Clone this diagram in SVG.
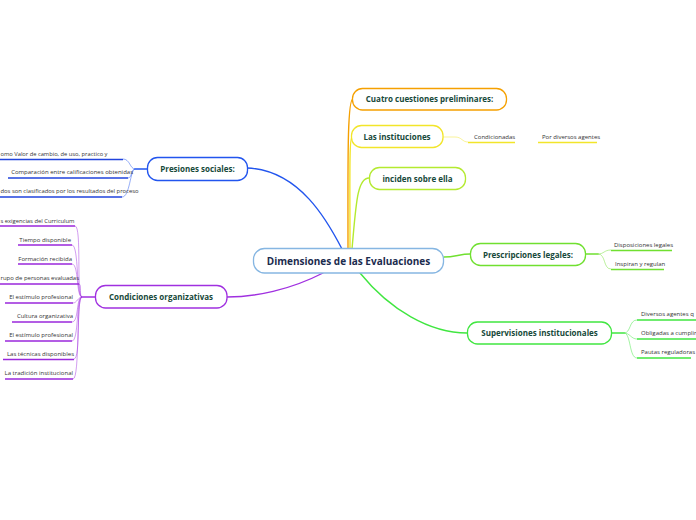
<svg xmlns="http://www.w3.org/2000/svg" width="696" height="520" viewBox="0 0 696 520">
<style>
.bg{fill:#ffffff}
.node{fill:#ffffff;stroke-width:1.3}
.main{font-family:"Open Sans","Noto Sans",sans-serif;font-size:8px;font-weight:bold;fill:#17493a;text-anchor:middle}
.center{font-family:"Open Sans","Noto Sans",sans-serif;font-size:10px;font-weight:bold;fill:#1b2b4e;text-anchor:middle}
.leaf{font-family:"Open Sans","Noto Sans",sans-serif;font-size:6px;fill:#333333}
.le{text-anchor:end}
.c{fill:none;stroke-width:1.4;stroke-linecap:round}
.lc{fill:none;stroke-width:0.8;opacity:0.6}
.ul{fill:none;stroke-width:1.4}
</style>
<rect class="bg" x="0" y="0" width="696" height="520"/>
<g id="connectors">
  <path class="c" stroke="#f5a000" d="M348,249 C348,170 347,99 353,99"/>
  <path class="c" stroke="#f2e52a" d="M350,249 C350,190 349,137 352,137"/>
  <path class="c" stroke="#b4ea30" d="M352,249 C356,205 357,178 369,178"/>
  <path class="c" stroke="#2255ee" d="M247,168 C300,170 328,222 342,249"/>
  <path class="c" stroke="#a030e0" d="M323,273 C290,290 255,297 227,297"/>
  <path class="c" stroke="#70e030" d="M444,257 C455,257 460,254 470,254"/>
  <path class="c" stroke="#40e640" d="M360,273 C390,310 430,333 467,333"/>
  <path class="c" stroke="#2255ee" d="M147,169 L135,169"/>
  <path class="lc" stroke="#2255ee" d="M135,169 C130,169 130,159 123,159"/>
  <path class="lc" stroke="#2255ee" d="M135,169 C131,169 132,178 128,178"/>
  <path class="lc" stroke="#2255ee" d="M135,169 C130,170 130,197 122,197"/>
  <path class="c" stroke="#a030e0" d="M95,297 L82,297"/>
  <path class="lc" stroke="#a030e0" d="M82,297 C76,297 82,226 75,226"/>
  <path class="lc" stroke="#a030e0" d="M82,297 C76,297 79,245 72,245"/>
  <path class="lc" stroke="#a030e0" d="M82,297 C76,297 79,264 72,264"/>
  <path class="lc" stroke="#a030e0" d="M82,297 C79,297 82,284 79,284"/>
  <path class="lc" stroke="#a030e0" d="M82,297 C78,297 77,303 73,303"/>
  <path class="lc" stroke="#a030e0" d="M82,297 C76,297 79,322 72,322"/>
  <path class="lc" stroke="#a030e0" d="M82,297 C76,297 79,341 72,341"/>
  <path class="lc" stroke="#a030e0" d="M82,297 C76,297 81,359 74,359"/>
  <path class="lc" stroke="#a030e0" d="M82,297 C76,297 80,379 73,379"/>
  <path class="lc" stroke="#f2e52a" d="M443,137 L455,137 C462,137 462,142 468,142"/>
  <path class="c" stroke="#70e030" d="M586,254 L598,254"/>
  <path class="lc" stroke="#70e030" d="M598,254 C604,254 604,250 611,250"/>
  <path class="lc" stroke="#70e030" d="M598,254 C606,254 603,269 611,269"/>
  <path class="c" stroke="#40e640" d="M612,333 L624,333"/>
  <path class="lc" stroke="#40e640" d="M624,333 C631,333 629,320 637,320"/>
  <path class="lc" stroke="#40e640" d="M624,333 C630,333 631,339 637,339"/>
  <path class="lc" stroke="#40e640" d="M624,333 C631,333 629,358 637,358"/>
</g>
<g id="n-center">
  <rect class="node" x="253.5" y="248.5" width="190" height="24.5" rx="11" stroke="#86b6e2"/>
  <text class="center" x="348.5" y="265">Dimensiones de las Evaluaciones</text>
</g>
<g id="n-cuatro">
  <rect class="node" x="352.5" y="88.5" width="154" height="21.5" rx="10" stroke="#f5a000"/>
  <text class="main" x="429.5" y="102">Cuatro cuestiones preliminares:</text>
</g>
<g id="n-instituciones">
  <rect class="node" x="351.5" y="125.5" width="91.5" height="22" rx="10" stroke="#f2e52a"/>
  <text class="main" x="397" y="139.5">Las instituciones</text>
</g>
<g id="n-inciden">
  <rect class="node" x="369.5" y="167.5" width="96" height="22" rx="10" stroke="#b4ea30"/>
  <text class="main" x="417.5" y="181.5">inciden sobre ella</text>
</g>
<g id="n-prescripciones">
  <rect class="node" x="470.5" y="243.5" width="115" height="22" rx="10" stroke="#70e030"/>
  <text class="main" x="528" y="257.5">Prescripciones legales:</text>
</g>
<g id="n-supervisiones">
  <rect class="node" x="467.5" y="322" width="144" height="22" rx="10" stroke="#40e640"/>
  <text class="main" x="539.5" y="336">Supervisiones institucionales</text>
</g>
<g id="n-presiones">
  <rect class="node" x="147.5" y="157.5" width="100" height="23" rx="10" stroke="#2255ee"/>
  <text class="main" x="197.5" y="172">Presiones sociales:</text>
</g>
<g id="n-condiciones">
  <rect class="node" x="95.5" y="285.5" width="131.5" height="22.5" rx="10" stroke="#a030e0"/>
  <text class="main" x="161" y="300">Condiciones organizativas</text>
</g>
<g id="leaves-presiones">
  <path class="ul" stroke="#2244dd" d="M0,159.5 H123 M8,178 H128 M0,197 H122"/>
  <text class="leaf" x="0.5" y="156" textLength="107" lengthAdjust="spacingAndGlyphs">omo Valor de cambio, de uso, practico y</text>
  <text class="leaf le" x="133" y="174">Comparación entre calificaciones obtenidas</text>
  <text class="leaf" x="0.5" y="193" textLength="138" lengthAdjust="spacingAndGlyphs">dos son clasificados por los resultados del proceso</text>
</g>
<g id="leaves-condiciones">
  <path class="ul" stroke="#9a28dc" d="M0,226 H75 M18,245 H72 M18,264 H72 M0,284 H79 M5,303 H73 M12,322 H72 M5,341 H72 M3,359.5 H74 M5,379 H73"/>
  <text class="leaf" x="0.5" y="223" textLength="74" lengthAdjust="spacingAndGlyphs">s exigencias del Curriculum</text>
  <text class="leaf le" x="71" y="242">Tiempo disponible</text>
  <text class="leaf le" x="72" y="261">Formación recibida</text>
  <text class="leaf" x="0.5" y="280" textLength="78.5" lengthAdjust="spacingAndGlyphs">rupo de personas evaluadas</text>
  <text class="leaf le" x="73" y="299">El estímulo profesional</text>
  <text class="leaf le" x="73" y="318">Cultura organizativa</text>
  <text class="leaf le" x="73" y="337">El estímulo profesional</text>
  <text class="leaf le" x="74" y="356">Las técnicas disponibles</text>
  <text class="leaf le" x="73" y="375">La tradición institucional</text>
</g>
<g id="leaves-instituciones">
  <path class="ul" stroke="#f2e52a" d="M468,142.5 H515 M538,142.5 H597"/>
  <text class="leaf" x="474" y="139">Condicionadas</text>
  <text class="leaf" x="542" y="139">Por diversos agentes</text>
</g>
<g id="leaves-prescripciones">
  <path class="ul" stroke="#70e030" d="M611,250.5 H672 M611,269.5 H664"/>
  <text class="leaf" x="614" y="247">Disposiciones legales</text>
  <text class="leaf" x="615" y="266">Inspiran y regulan</text>
</g>
<g id="leaves-supervisiones">
  <path class="ul" stroke="#40e640" d="M637,320 H696 M637,339 H696 M637,358 H691"/>
  <text class="leaf" x="641" y="315.5">Diversos agentes  q</text>
  <text class="leaf" x="641" y="335">Obligadas a cumplir</text>
  <text class="leaf" x="641" y="354">Pautas reguladoras</text>
</g>
</svg>
